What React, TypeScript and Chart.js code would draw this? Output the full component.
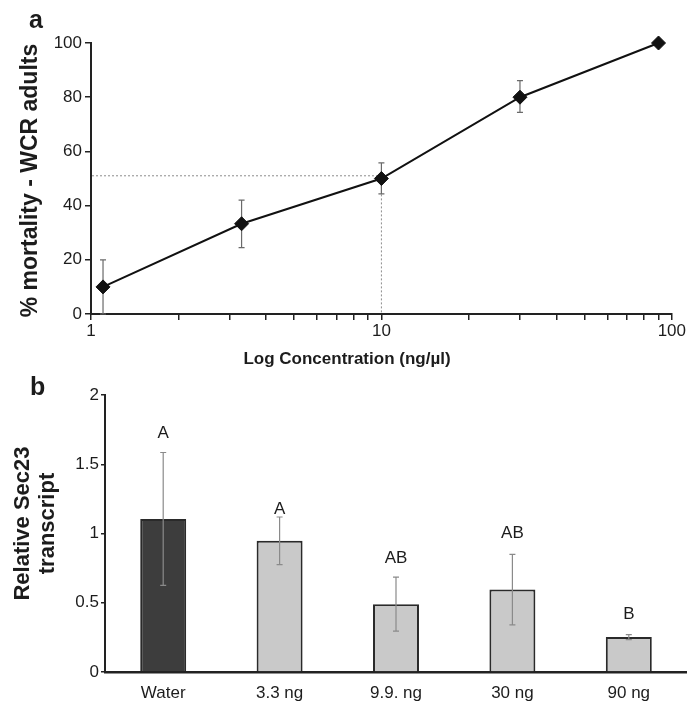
import React, { useEffect, useRef } from "react";
import { Chart, registerables } from "chart.js";

Chart.register(...registerables);

const FONT = "'Liberation Sans', Arial, Helvetica, sans-serif";
const TEXT = "#1c1c1c";
const AXIS = "#222222";

// ---------- Panel a: dose-response ----------
const concentrations = [1.1, 3.3, 10, 30, 90];
const mortality = [10, 33.3, 50, 80, 100];
const mortalityLow = [0, 24.5, 44.3, 74.4, 100];
const mortalityHigh = [20, 42, 55.8, 86.1, 100];
const xTickValues = [1, 2, 3, 4, 5, 6, 7, 8, 9, 10, 20, 30, 40, 50, 60, 70, 80, 90, 100];
const xLabeledTicks = [1, 10, 100];
const lc50Concentration = 10;
const lc50Mortality = 51;

// ---------- Panel b: transcript ----------
const treatments = ["Water", "3.3 ng", "9.9. ng", "30 ng", "90 ng"];
const transcript = [1.105, 0.947, 0.49, 0.595, 0.252];
const transcriptErr = [0.48, 0.172, 0.195, 0.255, 0.018];
const groupLetters = ["A", "A", "AB", "AB", "B"];
const letterLevels = [1.726, 1.176, 0.824, 0.998, 0.417];

const panelAPlugin = {
  id: "panelA",
  beforeDatasetsDraw(chart: any) {
    const { ctx, scales } = chart;
    const x = scales.x;
    const y = scales.y;
    ctx.save();
    // dotted LC50 guide lines
    ctx.strokeStyle = "#8c8c8c";
    ctx.lineWidth = 1;
    ctx.setLineDash([2, 2]);
    const px = x.getPixelForValue(lc50Concentration);
    const py = y.getPixelForValue(lc50Mortality);
    ctx.beginPath();
    ctx.moveTo(x.left + 1, py);
    ctx.lineTo(px, py);
    ctx.lineTo(px, y.bottom);
    ctx.stroke();
    ctx.setLineDash([]);
    // error bars
    ctx.strokeStyle = "#6a6a6a";
    ctx.lineWidth = 1.2;
    concentrations.forEach((c, i) => {
      if (mortalityHigh[i] === mortalityLow[i]) return;
      const cx = x.getPixelForValue(c);
      const t = y.getPixelForValue(mortalityHigh[i]);
      const b = y.getPixelForValue(mortalityLow[i]);
      ctx.beginPath();
      ctx.moveTo(cx, t);
      ctx.lineTo(cx, b);
      ctx.moveTo(cx - 3, t);
      ctx.lineTo(cx + 3, t);
      ctx.moveTo(cx - 3, b);
      ctx.lineTo(cx + 3, b);
      ctx.stroke();
    });
    ctx.restore();
  },
  afterDraw(chart: any) {
    const { ctx, chartArea } = chart;
    ctx.save();
    ctx.fillStyle = TEXT;
    // x title
    ctx.font = `bold 17px ${FONT}`;
    ctx.textAlign = "center";
    ctx.textBaseline = "middle";
    ctx.fillText("Log Concentration (ng/µl)", 347, 359);
    // y title
    ctx.save();
    ctx.translate(31, (chartArea.top + chartArea.bottom) / 2 + 2);
    ctx.rotate(-Math.PI / 2);
    ctx.font = `bold 23px ${FONT}`;
    ctx.fillText("% mortality - WCR adults", 0, 0);
    ctx.restore();
    // panel letter
    ctx.font = `bold 25px ${FONT}`;
    ctx.textAlign = "left";
    ctx.textBaseline = "alphabetic";
    ctx.fillText("a", 29, 28);
    ctx.restore();
  },
};

const panelBPlugin = {
  id: "panelB",
  afterDatasetsDraw(chart: any) {
    const { ctx, scales } = chart;
    const x = scales.x;
    const y = scales.y;
    ctx.save();
    ctx.strokeStyle = "#8a8a8a";
    ctx.lineWidth = 1.2;
    transcript.forEach((v, i) => {
      const cx = x.getPixelForValue(i);
      const t = y.getPixelForValue(v + transcriptErr[i]);
      const b = y.getPixelForValue(v - transcriptErr[i]);
      ctx.beginPath();
      ctx.moveTo(cx, t);
      ctx.lineTo(cx, b);
      ctx.moveTo(cx - 3, t);
      ctx.lineTo(cx + 3, t);
      ctx.moveTo(cx - 3, b);
      ctx.lineTo(cx + 3, b);
      ctx.stroke();
    });
    ctx.fillStyle = TEXT;
    ctx.font = `17px ${FONT}`;
    ctx.textAlign = "center";
    ctx.textBaseline = "middle";
    groupLetters.forEach((l, i) => {
      ctx.fillText(l, x.getPixelForValue(i), y.getPixelForValue(letterLevels[i]));
    });
    ctx.restore();
  },
  afterDraw(chart: any) {
    const { ctx, chartArea } = chart;
    ctx.save();
    ctx.fillStyle = TEXT;
    ctx.textAlign = "center";
    ctx.textBaseline = "middle";
    ctx.font = `bold 22px ${FONT}`;
    const cy = (chartArea.top + chartArea.bottom) / 2 - 10;
    ctx.save();
    ctx.translate(23, cy);
    ctx.rotate(-Math.PI / 2);
    ctx.fillText("Relative Sec23", 0, 0);
    ctx.restore();
    ctx.save();
    ctx.translate(48, cy);
    ctx.rotate(-Math.PI / 2);
    ctx.fillText("transcript", 0, 0);
    ctx.restore();
    ctx.font = `bold 25px ${FONT}`;
    ctx.textAlign = "left";
    ctx.textBaseline = "alphabetic";
    ctx.fillText("b", 30, 23);
    ctx.restore();
  },
};

export default function App() {
  const refA = useRef<HTMLCanvasElement>(null);
  const refB = useRef<HTMLCanvasElement>(null);

  useEffect(() => {
    const chartA = new Chart(refA.current as HTMLCanvasElement, {
      type: "line",
      data: {
        datasets: [
          {
            data: concentrations.map((c, i) => ({ x: c, y: mortality[i] })),
            borderColor: "#111",
            borderWidth: 2,
            pointStyle: "rectRot",
            pointRadius: 7,
            pointBackgroundColor: "#111",
            pointBorderColor: "#111",
            pointBorderWidth: 1,
            tension: 0,
            clip: false,
          },
        ],
      },
      options: {
        animation: false,
        responsive: false,
        devicePixelRatio: 1,
        layout: { padding: { top: 43, right: 15, left: 0, bottom: 0 } },
        plugins: { legend: { display: false }, tooltip: { enabled: false } },
        scales: {
          x: {
            type: "logarithmic",
            min: 1,
            max: 100,
            afterBuildTicks: (s: any) => {
              s.ticks = xTickValues.map((v) => ({ value: v, major: xLabeledTicks.includes(v) }));
            },
            afterFit: (s: any) => {
              s.height = 58;
            },
            ticks: {
              autoSkip: false,
              maxRotation: 0,
              minRotation: 0,
              padding: 1,
              color: TEXT,
              font: { family: FONT, size: 17 },
              callback: (v: any) => (xLabeledTicks.includes(Number(v)) ? String(v) : ""),
            },
            grid: { drawOnChartArea: false, drawTicks: true, tickLength: 6, color: AXIS, lineWidth: 1.5 },
            border: { display: true, color: AXIS, width: 2 },
          },
          y: {
            min: 0,
            max: 100,
            afterFit: (s: any) => {
              s.width = 91;
            },
            ticks: { stepSize: 20, padding: 3, color: TEXT, font: { family: FONT, size: 17 } },
            grid: { drawOnChartArea: false, drawTicks: true, tickLength: 6, color: AXIS, lineWidth: 1.5 },
            border: { display: true, color: AXIS, width: 2 },
          },
        },
      },
      plugins: [panelAPlugin],
    } as any);

    const chartB = new Chart(refB.current as HTMLCanvasElement, {
      type: "bar",
      data: {
        labels: treatments,
        datasets: [
          {
            data: transcript,
            backgroundColor: treatments.map((_, i) => (i === 0 ? "#3d3d3d" : "#c9c9c9")),
            borderColor: "#2a2a2a",
            borderWidth: 2,
            categoryPercentage: 1,
            barPercentage: 0.395,
          },
        ],
      },
      options: {
        animation: false,
        responsive: false,
        devicePixelRatio: 1,
        layout: { padding: { top: 23, right: 0, left: 0, bottom: 0 } },
        plugins: { legend: { display: false }, tooltip: { enabled: false } },
        scales: {
          x: {
            afterFit: (s: any) => {
              s.height = 31;
            },
            ticks: { padding: 11, color: TEXT, font: { family: FONT, size: 17 }, maxRotation: 0, autoSkip: false },
            grid: { display: false, drawTicks: false },
            border: { display: true, color: AXIS, width: 2.5 },
          },
          y: {
            min: 0,
            max: 2,
            afterFit: (s: any) => {
              s.width = 105;
            },
            ticks: {
              stepSize: 0.5,
              padding: 2,
              color: TEXT,
              font: { family: FONT, size: 17 },
              callback: (v: any) => String(Number(v)),
            },
            grid: { drawOnChartArea: false, drawTicks: true, tickLength: 4, color: AXIS, lineWidth: 1.5 },
            border: { display: true, color: AXIS, width: 2 },
          },
        },
      },
      plugins: [panelBPlugin],
    } as any);

    return () => {
      chartA.destroy();
      chartB.destroy();
    };
  }, []);

  return (
    <div style={{ position: "absolute", left: 0, top: 0, width: 687, height: 703, background: "#fff" }}>
      <canvas ref={refA} width={687} height={372} style={{ display: "block", width: 687, height: 372 }} />
      <canvas ref={refB} width={687} height={331} style={{ display: "block", width: 687, height: 331 }} />
    </div>
  );
}
